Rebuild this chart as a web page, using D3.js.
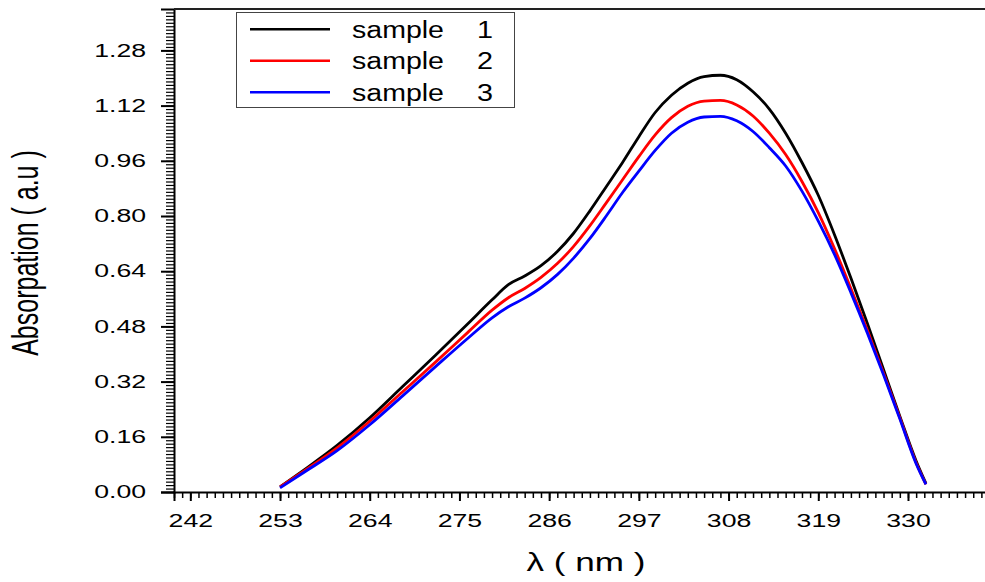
<!DOCTYPE html>
<html>
<head>
<meta charset="utf-8">
<script src="https://cdn.jsdelivr.net/npm/d3@7"></script>
<style>
  body { margin: 0; background: #fff; }
  svg { display: block; font-family: "Liberation Sans", Arial, sans-serif; }
</style>
</head>
<body>
<svg id="chart" width="985" height="582"></svg>
<script>
// wavelengths (nm)
const wavelength = [253, 256, 260, 264, 268, 272, 276, 279, 281, 283, 285, 287, 289, 291, 293, 295, 297, 299,
  301, 303, 305, 307, 309, 311, 313, 315, 317, 319, 321, 323, 325, 327, 329, 331, 332.2];

const sample1 = [0.015, 0.065, 0.135, 0.215, 0.305, 0.395, 0.487, 0.557, 0.601, 0.626, 0.656, 0.697, 0.750, 0.815,
  0.885, 0.955, 1.030, 1.100, 1.150, 1.185, 1.204, 1.208, 1.195, 1.160, 1.110, 1.040, 0.955, 0.860, 0.745,
  0.620, 0.490, 0.355, 0.220, 0.090, 0.025];

const sample2 = [0.015, 0.062, 0.128, 0.205, 0.290, 0.375, 0.462, 0.527, 0.563, 0.590, 0.622, 0.662, 0.712, 0.772,
  0.838, 0.905, 0.972, 1.035, 1.085, 1.118, 1.133, 1.135, 1.122, 1.090, 1.040, 0.978, 0.900, 0.810, 0.705,
  0.590, 0.470, 0.345, 0.215, 0.085, 0.022];

const sample3 = [0.012, 0.058, 0.120, 0.195, 0.278, 0.362, 0.445, 0.505, 0.537, 0.562, 0.592, 0.630, 0.678, 0.735,
  0.800, 0.868, 0.930, 0.990, 1.040, 1.072, 1.087, 1.089, 1.076, 1.045, 0.998, 0.945, 0.872, 0.785, 0.688,
  0.578, 0.462, 0.340, 0.212, 0.082, 0.022];

const seriesNames = ["sample", "sample", "sample"];
const seriesNumbers = ["1", "2", "3"];
const seriesColors = ["#000000", "#ff0000", "#0000ff"];

const xTicks = [242, 253, 264, 275, 286, 297, 308, 319, 330];
const yTicks = [0, 0.16, 0.32, 0.48, 0.64, 0.80, 0.96, 1.12, 1.28];

const svg = d3.select("#chart");

// the plot keeps going past the right edge of the picture
const x = d3.scaleLinear().domain([240, 341]).range([174, 997.7]);
const y = d3.scaleLinear().domain([0, 1.40]).range([492, 9]);

const stretch = 1.48; // text in the original is stretched sideways

// minor ticks first, so the major ones sit on top
svg.append("g")
  .attr("transform", "translate(174,0)")
  .call(d3.axisLeft(y).tickValues(d3.range(0, 140).map(i => i / 100)).tickSize(8).tickFormat(""))
  .call(g => g.select(".domain").remove())
  .call(g => g.selectAll("line").attr("stroke", "#000").attr("stroke-width", 1.2));

svg.append("g")
  .attr("transform", "translate(0,492)")
  .call(d3.axisBottom(x).tickValues(d3.range(240, 342)).tickSize(6).tickFormat(""))
  .call(g => g.select(".domain").remove())
  .call(g => g.selectAll("line").attr("stroke", "#000").attr("stroke-width", 1.5));

// major ticks + labels
svg.append("g")
  .attr("transform", "translate(174,0)")
  .call(d3.axisLeft(y).tickValues(yTicks).tickSize(13).tickFormat(d3.format(".2f")))
  .call(g => g.select(".domain").attr("stroke", "#000").attr("stroke-width", 2))
  .call(g => g.selectAll("line").attr("stroke", "#000").attr("stroke-width", 2))
  .call(g => g.selectAll("text")
    .attr("x", -28 / stretch)
    .attr("transform", `scale(${stretch},1)`)
    .attr("fill", "#000")
    .style("font-size", "18px"));

svg.append("g")
  .attr("transform", "translate(0,492)")
  .call(d3.axisBottom(x).tickValues(xTicks).tickSize(9).tickFormat(d3.format("d")))
  .call(g => g.select(".domain").attr("stroke", "#000").attr("stroke-width", 2))
  .call(g => g.selectAll("line").attr("stroke", "#000").attr("stroke-width", 2))
  .call(g => g.selectAll("text")
    .attr("y", 35)
    .attr("dy", 0)
    .attr("transform", `scale(${stretch},1)`)
    .attr("fill", "#000")
    .style("font-size", "18px"));

// top border of the frame
svg.append("line")
  .attr("x1", x(240)).attr("x2", x(341))
  .attr("y1", y(1.40)).attr("y2", y(1.40))
  .attr("stroke", "#222")
  .attr("stroke-width", 2);

// the three spectra
const line = d3.line()
  .x((d, i) => x(wavelength[i]))
  .y(d => y(d))
  .curve(d3.curveMonotoneX);

[sample1, sample2, sample3].forEach((s, i) => {
  svg.append("path")
    .datum(s)
    .attr("d", line)
    .attr("fill", "none")
    .attr("stroke", seriesColors[i])
    .attr("stroke-width", 2.8)
    .attr("stroke-linejoin", "round");
});

// legend
const legend = svg.append("g");
legend.append("rect")
  .attr("x", 236.5).attr("y", 12.5)
  .attr("width", 278).attr("height", 95)
  .attr("fill", "#fff")
  .attr("stroke", "#444")
  .attr("stroke-width", 1);

seriesNames.forEach((name, i) => {
  const ly = 29.3 + i * 31.5;
  legend.append("line")
    .attr("x1", 250).attr("x2", 330)
    .attr("y1", ly).attr("y2", ly)
    .attr("stroke", seriesColors[i])
    .attr("stroke-width", 2.5);
  const t = legend.append("text")
    .attr("y", ly + 8.3)
    .attr("fill", "#000")
    .style("font-size", "23px");
  t.append("tspan").attr("x", 352).attr("textLength", 92).attr("lengthAdjust", "spacingAndGlyphs").text(name);
  t.append("tspan").attr("x", 477).attr("textLength", 16).attr("lengthAdjust", "spacingAndGlyphs").text(seriesNumbers[i]);
});

// axis titles
svg.append("text")
  .attr("transform", "translate(38,253) rotate(-90) scale(1,1.45)")
  .attr("text-anchor", "middle")
  .attr("fill", "#000")
  .style("font-size", "25px")
  .text("Absorpation ( a.u )");

svg.append("text")
  .attr("transform", "translate(586,571) scale(1.35,1)")
  .attr("text-anchor", "middle")
  .attr("fill", "#000")
  .style("font-size", "26px")
  .text("λ ( nm )");
</script>
</body>
</html>
